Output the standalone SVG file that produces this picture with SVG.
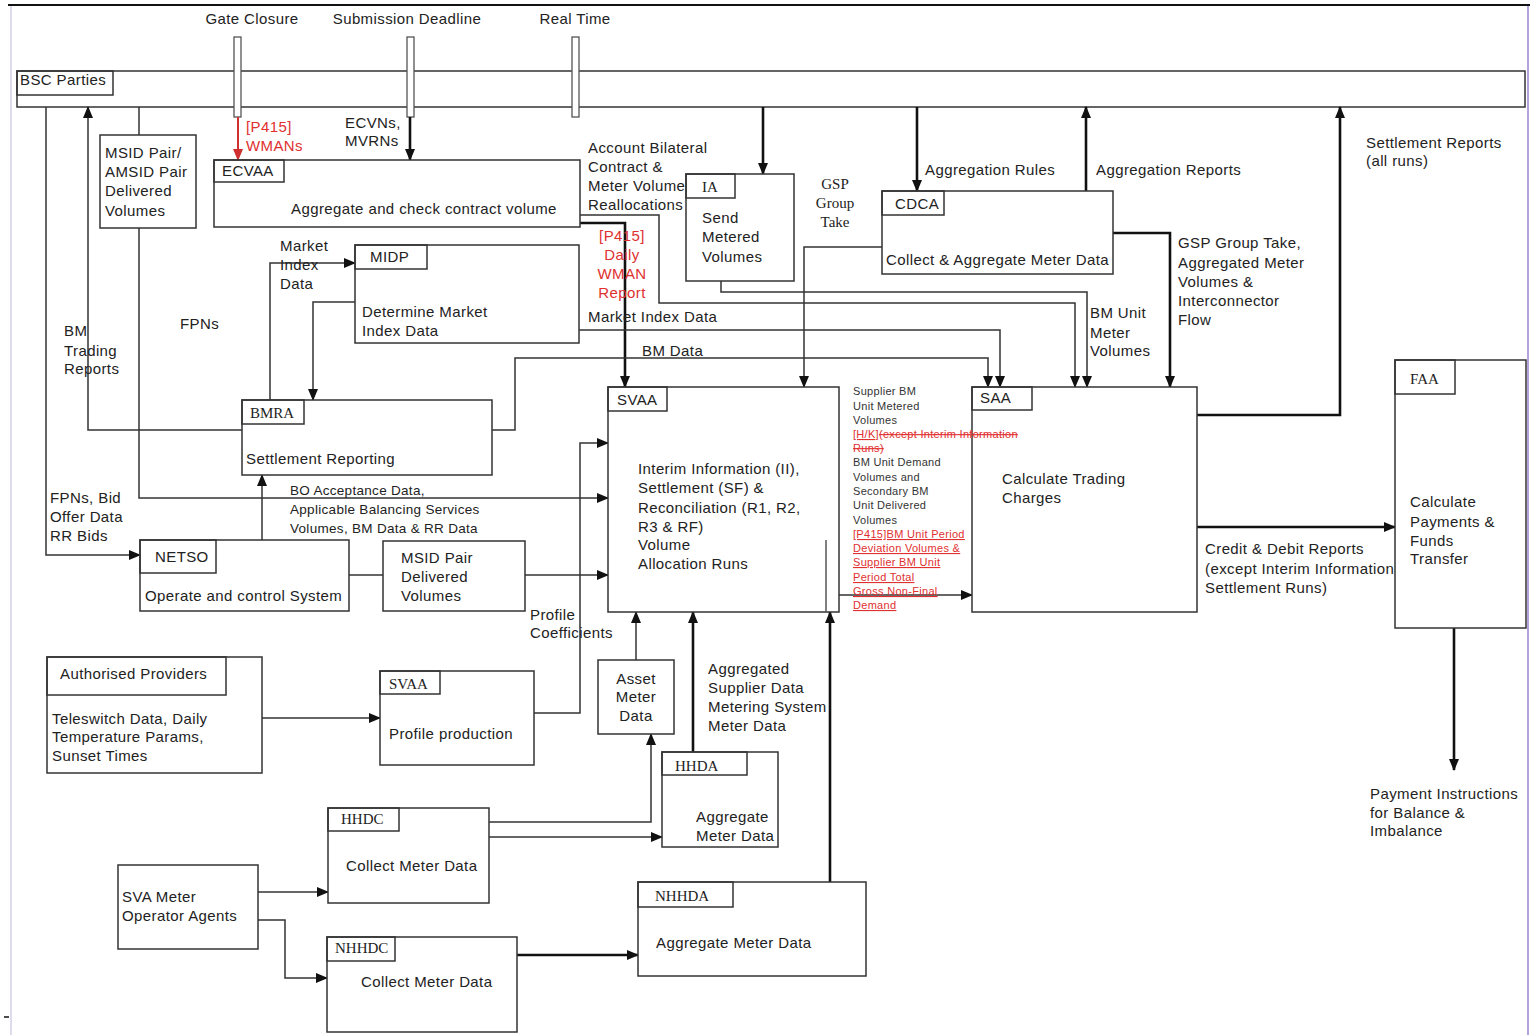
<svg xmlns="http://www.w3.org/2000/svg" width="1531" height="1035" viewBox="0 0 1531 1035">
<defs>
<style>
text{font-family:"Liberation Sans",Arial,sans-serif;font-size:15px;fill:#222;letter-spacing:0.4px}
.s{font-family:"Liberation Serif","Times New Roman",serif;font-size:15px;letter-spacing:0}
.sm{font-size:13.5px;letter-spacing:0.3px}
.xs{font-size:11px;fill:#333;letter-spacing:0.3px}
.red{fill:#e03030}
.box{fill:#fff;stroke:#333;stroke-width:1.5}
.lbl{fill:none;stroke:#333;stroke-width:1.5}
.mk{fill:#fff;stroke:#555;stroke-width:1.3}
.c{fill:none;stroke:#333;stroke-width:1.5}
.t{fill:none;stroke:#111;stroke-width:2.6}
.r{fill:none;stroke:#d03030;stroke-width:2}
</style>
<marker id="a" markerUnits="userSpaceOnUse" markerWidth="12" markerHeight="12" viewBox="0 0 12 12" refX="11" refY="6" orient="auto"><path d="M0,1 L12,6 L0,11 Z" fill="#111"/></marker>
<marker id="ar" markerUnits="userSpaceOnUse" markerWidth="12" markerHeight="12" viewBox="0 0 12 12" refX="11" refY="6" orient="auto"><path d="M0,1 L12,6 L0,11 Z" fill="#d03030"/></marker>
</defs>
<rect x="0" y="0" width="1531" height="1035" fill="#fff"/>
<g id="frame">
<line x1="8" y1="5" x2="1530" y2="5" stroke="#111" stroke-width="2"/>
<line x1="11" y1="6" x2="11" y2="1035" stroke="#d4cfe8" stroke-width="1.5"/>
<line x1="1528" y1="6" x2="1528" y2="1035" stroke="#9a84d0" stroke-width="1.5"/>
<line x1="4" y1="1017" x2="9" y2="1017" stroke="#111" stroke-width="1.5"/>
</g>
<g id="bsc-parties">
<rect class="box" x="17" y="71" width="1508" height="36"/>
<rect class="lbl" x="17" y="71" width="96" height="24"/>
<text x="20" y="85">BSC Parties</text>
</g>
<g id="timeline">
<text x="252" y="24" text-anchor="middle">Gate Closure</text>
<text x="407" y="24" text-anchor="middle">Submission Deadline</text>
<text x="575" y="24" text-anchor="middle">Real Time</text>
<rect class="mk" x="234" y="37" width="7" height="80"/>
<rect class="mk" x="407" y="37" width="7" height="80"/>
<rect class="mk" x="572" y="37" width="7" height="80"/>
</g>
<g id="connectors">
<path class="r" d="M238 117 V160" marker-end="url(#ar)"/>
<path class="t" d="M410 117 V160" marker-end="url(#a)"/>
<path class="t" d="M763 107 V174" marker-end="url(#a)"/>
<path class="t" d="M917 107 V191" marker-end="url(#a)"/>
<path class="t" d="M1086 191 V107" marker-end="url(#a)"/>
<path class="t" d="M1197 415 H1340 V107" marker-end="url(#a)"/>
<path class="t" d="M1113 233 H1170 V387" marker-end="url(#a)"/>
<path class="c" d="M721 281 V292 H1087 V387" marker-end="url(#a)"/>
<path class="c" d="M580 215 H659 V303 H1075 V387" marker-end="url(#a)"/>
<path class="t" d="M580 223 H625 V387" marker-end="url(#a)"/>
<path class="c" d="M579 330 H1000 V387" marker-end="url(#a)"/>
<path class="c" d="M492 430 H515 V358 H988 V387" marker-end="url(#a)"/>
<path class="c" d="M882 247 H804 V387" marker-end="url(#a)"/>
<path class="c" d="M270 400 V263 H355" marker-end="url(#a)"/>
<path class="c" d="M355 302 H313 V400" marker-end="url(#a)"/>
<path class="c" d="M242 430 H88 V107" marker-end="url(#a)"/>
<path class="c" d="M46 107 V555 H140" marker-end="url(#a)"/>
<path class="c" d="M139 107 V135"/>
<path class="c" d="M139 228 V498 H608" marker-end="url(#a)"/>
<path class="c" d="M262 540 V475" marker-end="url(#a)"/>
<path class="c" d="M349 575 H383"/>
<path class="c" d="M525 575 H608" marker-end="url(#a)"/>
<path class="c" d="M534 713 H580 V443 H608" marker-end="url(#a)"/>
<path class="c" d="M262 718 H380" marker-end="url(#a)"/>
<path class="c" d="M636 660 V612" marker-end="url(#a)"/>
<path class="t" d="M693 752 V612" marker-end="url(#a)"/>
<path class="t" d="M830 882 V612" marker-end="url(#a)"/>
<path class="c" d="M489 822 H651 V734" marker-end="url(#a)"/>
<path class="c" d="M489 837 H662" marker-end="url(#a)"/>
<path class="c" d="M258 892 H328" marker-end="url(#a)"/>
<path class="c" d="M258 920 H285 V978 H327" marker-end="url(#a)"/>
<path class="t" d="M517 955 H638" marker-end="url(#a)"/>
<path class="c" d="M839 595 H972" marker-end="url(#a)"/>
<path class="t" d="M1197 527 H1395" marker-end="url(#a)"/>
<path class="t" d="M1454 628 V770" marker-end="url(#a)"/>
</g>
<g id="msid-amsid">
<rect class="box" x="100" y="135" width="96" height="93"/>
<text x="105" y="158">MSID Pair/</text>
<text x="105" y="177">AMSID Pair</text>
<text x="105" y="196">Delivered</text>
<text x="105" y="216">Volumes</text>
</g>
<g id="ecvaa">
<rect class="box" x="214" y="160" width="366" height="67"/>
<rect class="lbl" x="214" y="160" width="70" height="22"/>
<text x="222" y="176">ECVAA</text>
<text x="291" y="214">Aggregate and check contract volume</text>
</g>
<g id="ia">
<rect class="box" x="686" y="174" width="108" height="107"/>
<rect class="lbl" x="686" y="174" width="49" height="24"/>
<text x="702" y="192" class="s">IA</text>
<text x="702" y="223">Send</text>
<text x="702" y="242">Metered</text>
<text x="702" y="262">Volumes</text>
</g>
<g id="cdca">
<rect class="box" x="882" y="191" width="231" height="83"/>
<rect class="lbl" x="882" y="191" width="62" height="24"/>
<text x="895" y="209">CDCA</text>
<text x="886" y="265">Collect &amp; Aggregate Meter Data</text>
</g>
<g id="midp">
<rect class="box" x="355" y="245" width="224" height="98"/>
<rect class="lbl" x="355" y="245" width="72" height="24"/>
<text x="370" y="262">MIDP</text>
<text x="362" y="317">Determine Market</text>
<text x="362" y="336">Index Data</text>
</g>
<g id="bmra">
<rect class="box" x="242" y="400" width="250" height="75"/>
<rect class="lbl" x="242" y="400" width="62" height="24"/>
<text x="250" y="418" class="s">BMRA</text>
<text x="246" y="464">Settlement Reporting</text>
</g>
<g id="svaa">
<rect class="box" x="608" y="387" width="231" height="225"/>
<rect class="lbl" x="608" y="387" width="59" height="24"/>
<text x="617" y="405">SVAA</text>
<text x="638" y="474">Interim Information (II),</text>
<text x="638" y="493">Settlement (SF) &amp;</text>
<text x="638" y="513">Reconciliation (R1, R2,</text>
<text x="638" y="532">R3 &amp; RF)</text>
<text x="638" y="550">Volume</text>
<text x="638" y="569">Allocation Runs</text>
<line x1="826" y1="540" x2="826" y2="612" stroke="#555" stroke-width="1.5"/>
</g>
<g id="saa">
<rect class="box" x="972" y="387" width="225" height="225"/>
<rect class="lbl" x="972" y="387" width="60" height="23"/>
<text x="980" y="403">SAA</text>
<text x="1002" y="484">Calculate Trading</text>
<text x="1002" y="503">Charges</text>
</g>
<g id="faa">
<rect class="box" x="1395" y="360" width="131" height="268"/>
<rect class="lbl" x="1395" y="360" width="60" height="34"/>
<text x="1410" y="384" class="s">FAA</text>
<text x="1410" y="507">Calculate</text>
<text x="1410" y="527">Payments &amp;</text>
<text x="1410" y="546">Funds</text>
<text x="1410" y="564">Transfer</text>
</g>
<g id="netso">
<rect class="box" x="140" y="540" width="209" height="71"/>
<rect class="lbl" x="140" y="540" width="76" height="33"/>
<text x="155" y="562">NETSO</text>
<text x="145" y="601">Operate and control System</text>
</g>
<g id="msid-delivered">
<rect class="box" x="383" y="541" width="142" height="70"/>
<text x="401" y="563">MSID Pair</text>
<text x="401" y="582">Delivered</text>
<text x="401" y="601">Volumes</text>
</g>
<g id="authorised-providers">
<rect class="box" x="47" y="657" width="215" height="116"/>
<rect class="lbl" x="47" y="657" width="179" height="38"/>
<text x="60" y="679">Authorised Providers</text>
<text x="52" y="724">Teleswitch Data, Daily</text>
<text x="52" y="742">Temperature Params,</text>
<text x="52" y="761">Sunset Times</text>
</g>
<g id="svaa-profile">
<rect class="box" x="380" y="671" width="154" height="94"/>
<rect class="lbl" x="380" y="671" width="60" height="23"/>
<text x="389" y="689" class="s">SVAA</text>
<text x="389" y="739">Profile production</text>
</g>
<g id="asset-meter-data">
<rect class="box" x="598" y="660" width="76" height="74"/>
<text x="636" y="684" text-anchor="middle">Asset</text>
<text x="636" y="702" text-anchor="middle">Meter</text>
<text x="636" y="721" text-anchor="middle">Data</text>
</g>
<g id="hhda">
<rect class="box" x="662" y="752" width="116" height="95"/>
<rect class="lbl" x="662" y="752" width="85" height="23"/>
<text x="675" y="771" class="s">HHDA</text>
<text x="696" y="822">Aggregate</text>
<text x="696" y="841">Meter Data</text>
</g>
<g id="hhdc">
<rect class="box" x="328" y="808" width="161" height="95"/>
<rect class="lbl" x="328" y="808" width="71" height="23"/>
<text x="341" y="824" class="s">HHDC</text>
<text x="346" y="871">Collect Meter Data</text>
</g>
<g id="sva-meter-operator-agents">
<rect class="box" x="118" y="865" width="140" height="84"/>
<text x="122" y="902">SVA Meter</text>
<text x="122" y="921">Operator Agents</text>
</g>
<g id="nhhdc">
<rect class="box" x="327" y="937" width="190" height="95"/>
<rect class="lbl" x="327" y="937" width="68" height="24"/>
<text x="335" y="953" class="s">NHHDC</text>
<text x="361" y="987">Collect Meter Data</text>
</g>
<g id="nhhda">
<rect class="box" x="638" y="882" width="228" height="94"/>
<rect class="lbl" x="638" y="882" width="95" height="25"/>
<text x="655" y="901" class="s">NHHDA</text>
<text x="656" y="948">Aggregate Meter Data</text>
</g>
<g id="connector-labels">
<text x="246" y="132" class="red">[P415]</text>
<text x="246" y="151" class="red">WMANs</text>
<text x="345" y="128">ECVNs,</text>
<text x="345" y="146">MVRNs</text>
<text x="588" y="153">Account Bilateral</text>
<text x="588" y="172">Contract &amp;</text>
<text x="588" y="191">Meter Volume</text>
<text x="588" y="210">Reallocations</text>
<text x="622" y="241" text-anchor="middle" class="red">[P415]</text>
<text x="622" y="260" text-anchor="middle" class="red">Daily</text>
<text x="622" y="279" text-anchor="middle" class="red">WMAN</text>
<text x="622" y="298" text-anchor="middle" class="red">Report</text>
<text x="588" y="322">Market Index Data</text>
<text x="642" y="356">BM Data</text>
<text x="835" y="189" text-anchor="middle" class="s">GSP</text>
<text x="835" y="208" text-anchor="middle" class="s">Group</text>
<text x="835" y="227" text-anchor="middle" class="s">Take</text>
<text x="925" y="175">Aggregation Rules</text>
<text x="1096" y="175">Aggregation Reports</text>
<text x="1366" y="148">Settlement Reports</text>
<text x="1366" y="166">(all runs)</text>
<text x="1178" y="248">GSP Group Take,</text>
<text x="1178" y="268">Aggregated Meter</text>
<text x="1178" y="287">Volumes &amp;</text>
<text x="1178" y="306">Interconnector</text>
<text x="1178" y="325">Flow</text>
<text x="1090" y="318">BM Unit</text>
<text x="1090" y="338">Meter</text>
<text x="1090" y="356">Volumes</text>
<text x="280" y="251">Market</text>
<text x="280" y="270">Index</text>
<text x="280" y="289">Data</text>
<text x="180" y="329">FPNs</text>
<text x="64" y="336">BM</text>
<text x="64" y="356">Trading</text>
<text x="64" y="374">Reports</text>
<text x="50" y="503">FPNs, Bid</text>
<text x="50" y="522">Offer Data</text>
<text x="50" y="541">RR Bids</text>
<text x="290" y="495" class="sm">BO Acceptance Data,</text>
<text x="290" y="514" class="sm">Applicable Balancing Services</text>
<text x="290" y="533" class="sm">Volumes, BM Data &amp; RR Data</text>
<text x="530" y="620">Profile</text>
<text x="530" y="638">Coefficients</text>
<text x="708" y="674">Aggregated</text>
<text x="708" y="693">Supplier Data</text>
<text x="708" y="712">Metering System</text>
<text x="708" y="731">Meter Data</text>
<text x="1205" y="554">Credit &amp; Debit Reports</text>
<text x="1205" y="574">(except Interim Information</text>
<text x="1205" y="593">Settlement Runs)</text>
<text x="1370" y="799">Payment Instructions</text>
<text x="1370" y="818">for Balance &amp;</text>
<text x="1370" y="836">Imbalance</text>
<text x="853" y="395" class="xs">Supplier BM</text>
<text x="853" y="410" class="xs">Unit Metered</text>
<text x="853" y="424" class="xs">Volumes</text>
<text x="853" y="438" class="xs red"><tspan text-decoration="underline">[H/K]</tspan><tspan text-decoration="line-through">(except Interim Information</tspan></text>
<text x="853" y="452" class="xs red" text-decoration="line-through">Runs)</text>
<text x="853" y="466" class="xs">BM Unit Demand</text>
<text x="853" y="481" class="xs">Volumes and</text>
<text x="853" y="495" class="xs">Secondary BM</text>
<text x="853" y="509" class="xs">Unit Delivered</text>
<text x="853" y="524" class="xs">Volumes</text>
<text x="853" y="538" class="xs red" text-decoration="underline">[P415]BM Unit Period</text>
<text x="853" y="552" class="xs red" text-decoration="underline">Deviation Volumes &amp;</text>
<text x="853" y="566" class="xs red" text-decoration="underline">Supplier BM Unit</text>
<text x="853" y="581" class="xs red" text-decoration="underline">Period Total</text>
<text x="853" y="595" class="xs red" text-decoration="underline">Gross Non-Final</text>
<text x="853" y="609" class="xs red" text-decoration="underline">Demand</text>
</g>
</svg>
